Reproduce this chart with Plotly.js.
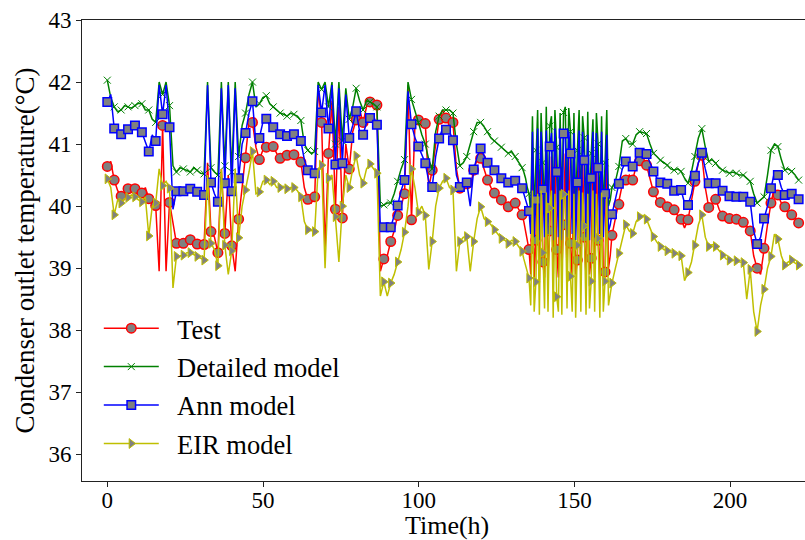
<!DOCTYPE html>
<html><head><meta charset="utf-8">
<script src="https://cdn.plot.ly/plotly-3.0.1.min.js"></script>
<style>html,body{margin:0;padding:0;overflow:hidden;background:#fff}#chart{width:812px;height:540px}</style>
</head><body><div id="chart"></div>
<script>
// Time grid (h): 1.11 h steps, finer 0.555 h steps inside the oscillating period
const hours = [];
for (let i = 0; i <= 120; i++) hours.push(+(1.11 * i).toFixed(3));
for (let j = 1; j <= 51; j++) hours.push(+(133.2 + 0.555 * j).toFixed(3));
for (let m = 0; m <= 54; m++) hours.push(+(162.06 + 1.11 * m).toFixed(3));

// ---- Test ----
const testEarly = [40.64,40.72,40.42,40.25,40.16,40.22,40.28,40.30,40.28,40.25,40.21,40.30,40.12,40.05,40.01,38.95,41.30,38.95,40.06,39.70,
39.40,39.42,39.40,39.45,39.46,39.40,39.39,39.38,39.38,40.70,39.59,39.50,39.25,40.60,39.56,40.50,39.36,38.95,39.79,40.30,
40.78,41.35,41.35,40.95,40.75,40.90,40.95,40.98,40.96,40.85,40.77,40.78,40.82,40.85,40.83,40.78,40.71,40.30,40.11,40.05,
40.15,41.90,41.35,39.30,40.85,41.70,39.95,41.60,39.81,41.00,40.60,41.20,41.39,41.55,41.35,41.60,41.68,41.72,41.63,38.95,
39.15,39.20,39.43,39.60,39.85,40.00,40.20,41.95,39.78,41.30,41.39,41.35,41.33,40.30,40.58,41.00,41.40,41.55,41.42,41.45,
41.35,40.60,40.29,40.25,40.36,40.30,40.58,40.75,40.77,40.60,40.42,40.30,40.21,40.15,40.10,40.05,39.99,40.02,40.05,39.95,
39.86];
const testOsc = [39.75,39.6,39.45,39.30,38.9,40.8,38.85,39.45,40.85,38.8,40.8,39.10,38.85,40.85,38.9,39.6,40.8,38.8,40.85,39.3,
38.85,40.8,38.9,39.7,40.85,38.8,40.8,39.4,38.85,40.8,38.9,39.13,40.85,38.8,40.8,39.5,38.85,40.75,38.9,39.16,
40.8,38.85,40.8,39.45,38.85,40.75,38.9,38.94,40.7,39.0,39.2];
const testLate = [39.53,39.80,40.03,40.35,40.42,40.50,40.42,40.65,40.73,40.72,40.66,40.45,40.23,40.12,40.06,40.03,39.99,39.96,39.94,39.85,
39.79,39.65,39.78,40.10,40.40,40.70,40.82,40.30,39.98,40.05,40.11,39.95,39.84,39.82,39.80,39.80,39.79,39.75,39.74,39.68,
39.60,39.20,39.00,38.90,39.32,39.70,40.05,40.30,40.18,40.05,39.99,39.90,39.86,39.80,39.73];

// ---- Detailed model ----
const detailedEarly = [42.03,41.75,41.60,41.52,41.55,41.62,41.60,41.58,41.62,41.66,41.65,41.55,41.55,41.40,41.35,42.00,41.80,42.00,41.62,40.65,
40.55,40.62,40.60,40.57,40.55,40.62,40.58,40.53,40.52,42.00,40.62,40.55,40.50,42.00,40.65,42.00,40.55,42.00,40.80,41.30,
41.50,41.80,42.00,41.60,41.65,41.75,41.78,41.65,41.60,41.55,41.50,41.48,41.45,41.50,41.48,41.45,41.38,41.00,40.90,40.85,
40.88,42.00,41.88,42.00,41.60,42.00,41.00,42.00,41.05,41.90,41.40,41.60,41.90,41.70,41.55,41.70,41.68,41.65,41.60,40.00,
40.02,40.05,40.05,40.20,40.40,40.60,40.75,42.00,41.72,41.55,41.35,41.15,41.00,40.75,40.60,41.20,41.45,41.55,41.55,41.55,
41.50,41.00,40.65,40.70,40.80,41.00,41.20,41.35,41.35,41.28,41.20,41.10,41.05,41.00,40.95,40.90,40.85,40.88,40.80,40.70,
40.62];
const detailedOsc = [40.55,40.45,40.3,40.2,39.9,41.45,39.85,40.9,41.55,39.8,41.5,40.7,39.9,41.6,39.85,41.29,41.45,39.8,41.55,40.95,
39.85,41.5,39.9,41.51,41.6,39.85,41.58,41.2,39.8,41.5,39.9,40.9,41.55,39.85,41.45,41.1,39.8,41.52,39.9,40.85,
41.4,39.85,41.5,41.0,39.9,41.45,39.85,40.7,41.55,40.0,40.1];
const detailedLate = [40.30,40.40,40.64,41.05,41.09,41.00,41.00,41.15,41.20,41.18,41.17,41.00,40.85,40.80,40.74,40.70,40.66,40.60,40.58,40.60,
40.56,40.45,40.37,40.55,40.80,41.10,41.25,40.95,40.72,40.75,40.69,40.62,40.58,40.55,40.53,40.55,40.53,40.50,40.50,40.45,
40.40,40.20,40.05,40.10,40.15,40.50,40.90,41.00,40.96,40.75,40.58,40.60,40.56,40.50,40.42];

// ---- Ann model ----
const annEarly = [41.68,41.80,41.25,41.18,41.16,41.20,41.24,41.28,41.30,41.22,41.19,41.05,40.88,41.15,41.05,41.95,41.48,41.95,41.27,39.95,
40.24,40.25,40.24,40.27,40.28,40.22,40.23,40.20,40.18,41.95,40.38,40.20,40.07,41.90,40.37,41.95,40.24,41.90,40.45,41.00,
41.18,41.50,41.69,41.00,41.10,41.35,41.41,41.30,41.27,41.22,41.16,41.12,41.13,41.18,41.16,41.10,41.05,40.75,40.58,40.50,
40.53,41.95,41.51,41.95,41.25,41.95,40.67,41.90,40.69,41.80,41.10,41.30,41.53,41.20,41.15,41.35,41.42,41.45,41.31,39.65,
39.66,39.70,39.66,39.85,40.01,40.25,40.42,41.85,41.32,41.10,40.96,40.80,40.69,40.40,40.31,40.80,41.09,41.25,41.23,41.20,
41.06,40.50,40.31,40.30,40.38,40.00,40.59,40.80,40.93,40.80,40.70,40.65,40.58,40.50,40.45,40.42,40.38,40.40,40.41,40.35,
40.29];
const annOsc = [40.2,40.1,40.0,39.92,39.55,41.2,39.5,40.10,41.25,39.45,41.2,40.27,39.5,41.22,39.55,40.96,41.18,39.45,41.25,40.55,
39.5,41.2,39.45,41.17,41.22,39.5,41.2,40.85,39.55,41.18,39.45,40.38,41.22,39.5,41.2,40.74,39.5,41.15,39.45,40.45,
41.2,39.5,41.18,40.62,39.55,41.2,39.5,40.20,41.15,39.6,39.7];
const annLate = [39.87,40.10,40.36,40.60,40.72,40.68,40.64,40.78,40.86,40.88,40.84,40.70,40.56,40.45,40.38,40.37,40.36,40.30,40.25,40.28,
40.26,40.05,40.02,40.20,40.49,40.70,40.86,40.60,40.37,40.40,40.37,40.30,40.25,40.20,40.16,40.17,40.15,40.18,40.15,40.10,
40.07,39.60,39.39,39.50,39.80,40.00,40.29,40.55,40.50,40.30,40.18,40.22,40.20,40.15,40.11];

// ---- EIR model ----
const eirEarly = [40.44,40.30,39.86,40.10,40.05,40.12,40.14,40.18,40.15,40.10,40.07,40.15,39.52,40.00,40.05,40.60,40.33,40.40,40.29,38.68,
39.19,39.20,39.21,39.25,39.25,39.22,39.19,39.15,39.13,40.50,39.40,39.30,39.04,40.60,39.37,38.90,39.28,40.60,39.49,40.00,
40.26,40.55,40.88,40.20,40.23,40.40,40.42,40.35,40.40,40.30,40.30,40.32,40.28,40.30,40.30,40.25,40.15,39.75,39.62,39.60,
39.59,40.60,40.66,39.00,40.45,40.50,39.83,39.10,40.00,40.50,40.30,40.60,40.81,40.50,40.37,40.60,40.68,40.60,40.53,38.55,
38.78,38.55,38.76,38.90,39.10,39.30,39.58,40.00,40.60,40.30,39.90,40.00,39.85,38.98,39.43,40.00,40.29,40.40,40.45,40.30,
40.26,38.95,39.43,39.50,39.51,38.95,39.43,39.80,39.99,39.80,39.75,39.70,39.62,39.55,39.48,39.45,39.40,39.45,39.43,39.35,
39.27];
const eirOsc = [39.15,39.05,38.95,38.84,38.4,40.25,38.3,38.78,40.2,38.25,40.25,39.25,38.35,40.22,38.3,39.97,40.25,38.2,40.2,38.54,
38.3,40.25,38.25,40.19,40.22,38.35,40.25,38.87,38.3,40.2,38.2,39.37,40.25,38.3,40.22,39.68,38.25,40.2,38.35,38.79,
40.25,38.3,40.2,39.48,38.2,40.22,38.3,38.79,40.15,38.4,38.6];
const eirLate = [38.76,39.00,39.24,39.50,39.70,39.60,39.56,39.75,39.83,39.85,39.79,39.65,39.51,39.42,39.35,39.30,39.28,39.26,39.24,39.22,
39.20,38.80,38.93,39.10,39.37,39.70,39.86,39.50,39.35,39.38,39.35,39.28,39.21,39.15,39.13,39.13,39.12,39.10,39.09,38.50,
38.98,38.30,37.98,38.40,38.66,39.00,39.19,39.55,39.47,39.20,39.05,39.10,39.13,39.08,39.05];

const xTicks = [0, 50, 100, 150, 200];
const yTicks = [36, 37, 38, 39, 40, 41, 42, 43];
const seriesNames = ['Test', 'Detailed model', 'Ann model', 'EIR model'];
const xTitle = 'Time(h)';
const yTitle = 'Condenser outlet temperature(°C)';

const series = [
  {name: seriesNames[0], y: testEarly.concat(testOsc, testLate), color: '#ff0000',
   marker: {symbol: 'circle', size: 9.5, color: '#808080', line: {color: '#ff0000', width: 1.5}}},
  {name: seriesNames[1], y: detailedEarly.concat(detailedOsc, detailedLate), color: '#008000',
   marker: {symbol: 'x-thin-open', size: 7, color: '#008000', line: {color: '#008000', width: 1}}},
  {name: seriesNames[2], y: annEarly.concat(annOsc, annLate), color: '#0000ff',
   marker: {symbol: 'square', size: 8.5, color: '#808080', line: {color: '#0000ff', width: 1.5}}},
  {name: seriesNames[3], y: eirEarly.concat(eirOsc, eirLate), color: '#bfbf00',
   marker: {symbol: 'triangle-right', size: 8.5, color: '#808080', line: {color: '#bfbf00', width: 1}}}
];

function isMarker(t) { const r = t / 2.22; return Math.abs(r - Math.round(r)) < 1e-6; }

const traces = [];
series.forEach(s => {
  traces.push({x: hours, y: s.y, type: 'scatter', mode: 'lines', showlegend: false, hoverinfo: 'skip',
               line: {color: s.color, width: 1.5}});
  const mx = [], my = [];
  hours.forEach((t, i) => { if (isMarker(t)) { mx.push(t); my.push(s.y[i]); } });
  traces.push({x: mx, y: my, type: 'scatter', mode: 'markers', showlegend: false, hoverinfo: 'skip', marker: s.marker});
});
series.forEach(s => {
  traces.push({x: [null], y: [null], type: 'scatter', mode: 'lines+markers', name: '\u00a0\u00a0' + s.name, legendgroup: s.name,
               line: {color: s.color, width: 1.5}, marker: s.marker});
});

const serif = 'Liberation Serif';
const layout = {
  width: 812, height: 540,
  margin: {l: 82, r: 0, t: 20, b: 59},
  paper_bgcolor: '#fff', plot_bgcolor: '#fff',
  showlegend: true,
  legend: {x: 0.023, y: 0.383, xanchor: 'left', yanchor: 'top', bgcolor: 'rgba(0,0,0,0)', borderwidth: 0,
           font: {family: serif, size: 26.5, color: '#000'}, itemwidth: 55, traceorder: 'grouped', tracegroupgap: 1},
  xaxis: {range: [-8.125, 226.3], tickvals: xTicks, ticktext: xTicks.map(String), ticks: 'outside', ticklen: 5, tickwidth: 1,
          tickcolor: '#222', showline: true, linecolor: '#222', linewidth: 1, mirror: true, showgrid: false, zeroline: false,
          ticklabelstandoff: -7,
          tickfont: {family: serif, size: 23, color: '#000'}},
  yaxis: {range: [35.57, 43], tickvals: yTicks, ticktext: yTicks.map(String), ticks: 'outside', ticklen: 5, tickwidth: 1,
          tickcolor: '#222', showline: true, linecolor: '#222', linewidth: 1, mirror: true, showgrid: false, zeroline: false,
          tickfont: {family: serif, size: 23, color: '#000'},
          title: {text: yTitle, font: {family: serif, size: 27, color: '#000'}, standoff: 5}},
  annotations: [{text: xTitle, xref: 'paper', yref: 'paper', x: 0.5, y: (481 - 525.5) / 461, xanchor: 'center', yanchor: 'middle',
                 showarrow: false, font: {family: serif, size: 26, color: '#000'}}]
};

Plotly.newPlot('chart', traces, layout, {displayModeBar: false, staticPlot: true});
</script></body></html>
